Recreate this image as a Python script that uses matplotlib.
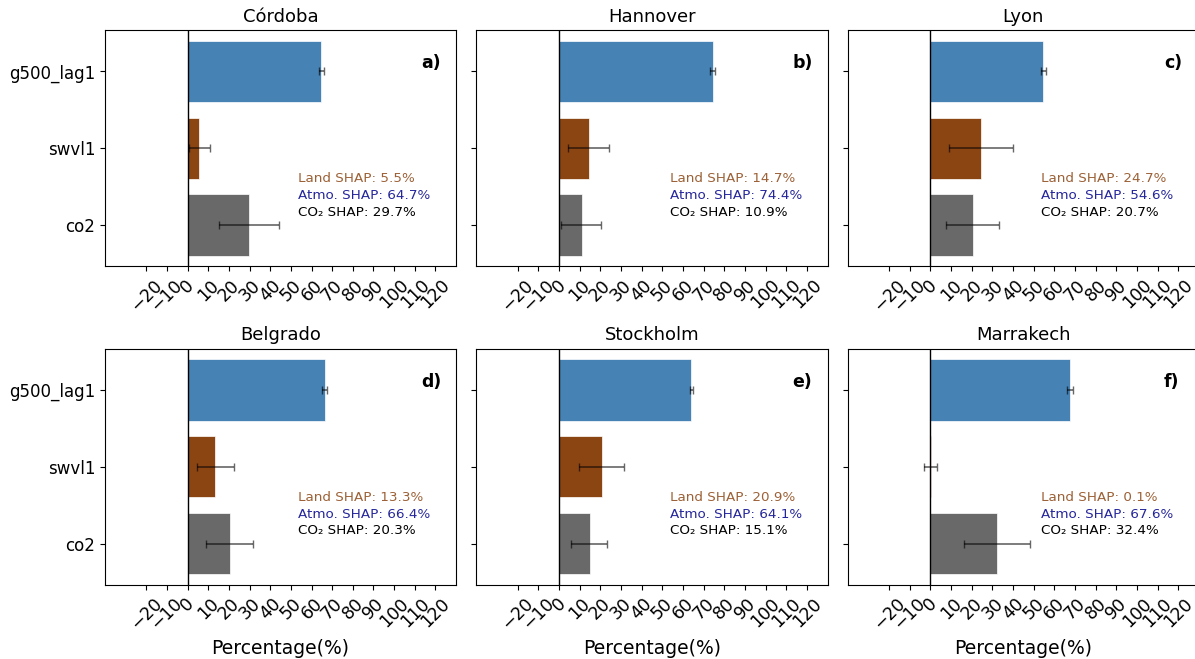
import matplotlib.pyplot as plt
import numpy as np

# cities and panel letters
cities = ['Córdoba', 'Hannover', 'Lyon', 'Belgrado', 'Stockholm', 'Marrakech']
panels = ['a)', 'b)', 'c)', 'd)', 'e)', 'f)']
features = ['g500_lag1', 'swvl1', 'co2']

# mean SHAP share per feature (%)
atmo = [64.7, 74.4, 54.6, 66.4, 64.1, 67.6]
land = [5.5, 14.7, 24.7, 13.3, 20.9, 0.1]
co2 = [29.7, 10.9, 20.7, 20.3, 15.1, 32.4]

# spread of the share (%)
atmo_err = [1.1, 1.2, 1.2, 1.3, 0.8, 1.4]
land_err = [4.9, 9.9, 15.5, 8.9, 11.0, 3.0]
co2_err = [14.7, 9.8, 12.8, 11.4, 8.6, 16.0]

# error bar centres (%)
land_mid = [5.7, 14.3, 24.5, 13.5, 20.6, 0.1]
co2_mid = [29.7, 10.7, 20.5, 20.3, 14.6, 32.4]

colors = ['steelblue', 'saddlebrown', 'dimgray']

fig, axes = plt.subplots(2, 3, figsize=(11.95, 6.59), dpi=100, sharey=True)
plt.subplots_adjust(left=0.0879, right=1.0033, top=0.9545, bottom=0.1123,
                    wspace=0.058, hspace=0.347)

for i, ax in enumerate(axes.flat):
    vals = [atmo[i], land[i], co2[i]]
    mids = [atmo[i], land_mid[i], co2_mid[i]]
    errs = [atmo_err[i], land_err[i], co2_err[i]]
    ypos = np.arange(len(features))
    ax.barh(ypos, vals, color=colors, edgecolor='white', linewidth=0.5)
    ax.errorbar(mids, ypos, xerr=errs, fmt='none', ecolor='black',
                alpha=0.6, capsize=3, elinewidth=1.2)
    ax.axvline(0, color='black', linewidth=1)
    ax.set_yticks(ypos)
    ax.set_yticklabels(features, fontsize=12)
    ax.set_ylim(2.54, -0.54)
    ax.set_xlim(-40, 130)
    ax.set_xticks(np.arange(-20, 130, 10))
    ax.tick_params(axis='x', labelsize=12.5, labelrotation=45)
    ax.set_title(cities[i], fontsize=13)
    ax.text(0.9, 0.86, panels[i], transform=ax.transAxes, fontsize=12.5,
            fontweight='bold', va='center')
    ax.text(0.55, 0.37, f'Land SHAP: {land[i]}%', transform=ax.transAxes,
            fontsize=9.7, color='saddlebrown', alpha=0.85, va='center')
    ax.text(0.55, 0.30, f'Atmo. SHAP: {atmo[i]}%', transform=ax.transAxes,
            fontsize=9.7, color='darkblue', alpha=0.85, va='center')
    ax.text(0.55, 0.23, f'CO₂ SHAP: {co2[i]}%', transform=ax.transAxes,
            fontsize=9.7, color='black', va='center')
    if i >= 3:
        ax.set_xlabel('Percentage(%)', fontsize=13.5)

plt.savefig('out.png', dpi=100)
